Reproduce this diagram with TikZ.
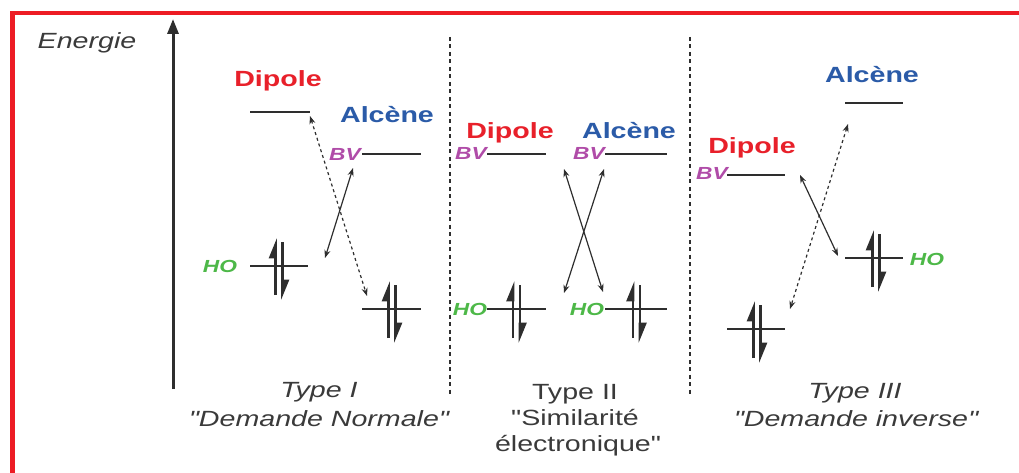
\documentclass[tikz,border=0pt]{standalone}
\usepackage{fontspec}
\usetikzlibrary{arrows.meta}
\newfontfamily\lab{Liberation Sans}[FakeStretch=1.3]

\definecolor{frame}{HTML}{ED1C24}
\definecolor{dipcol}{HTML}{E8202A}
\definecolor{alccol}{HTML}{2B5BA8}
\definecolor{bvcol}{HTML}{B04CA8}
\definecolor{hocol}{HTML}{4DB848}
\definecolor{ink}{HTML}{2E2E2E}
\definecolor{txt}{HTML}{3A3A3A}

\tikzset{
  level/.style={draw=ink, line width=2pt},
  elec/.style={draw=ink, line width=2.6pt,
    -{Triangle[harpoon, length=17pt, width=13pt]}},
  interact/.style={draw=ink, line width=1.2pt,
    {Stealth[length=8pt, width=6pt]}-{Stealth[length=8pt, width=6pt]}},
  weak/.style={interact, dash pattern=on 3pt off 3pt},
  divider/.style={draw=ink, line width=1.5pt, dash pattern=on 4pt off 3.5pt},
  mol/.style={inner sep=0, anchor=base, font=\lab\fontsize{22}{26}\selectfont\bfseries},
  dip/.style={mol, text=dipcol},
  alc/.style={mol, text=alccol},
  orb/.style={inner sep=0, anchor=base, font=\lab\fontsize{17.5}{20}\selectfont\bfseries\itshape},
  bv/.style={orb, text=bvcol},
  ho/.style={orb, text=hocol},
  caption/.style={inner sep=0, anchor=base, text=txt, font=\lab\fontsize{22}{26}\selectfont},
  pair/.pic={
    \draw[elec] (-3.5,29) -- (-3.5,-28);
    \draw[elec] (3.5,-24) -- (3.5,34);
  }
}

\begin{document}
\begin{tikzpicture}[x=1pt, y=-1pt]
\useasboundingbox (0,0) rectangle (1019,473);

% red frame (open to the right and at the bottom)
\draw[frame, line width=4.5pt] (12.5,473) -- (12.5,13) -- (1019,13);

% energy axis
\coordinate (axbot) at (173,389);
\coordinate (axtop) at (173,19);
\draw[ink, line width=3pt, -{Triangle[length=15pt, width=11pt]}] (axbot) -- (axtop);
\node[caption, font=\lab\fontsize{22}{26}\selectfont\itshape] (energie) at (87,49) {Energie};

% panel separators
\coordinate (s1t) at (450,37); \coordinate (s1b) at (450,395);
\coordinate (s2t) at (690,37); \coordinate (s2b) at (690,395);
\draw[divider] (s1t) -- (s1b);
\draw[divider] (s2t) -- (s2b);

% ---------------- Type I ----------------
\node[dip] (dipI) at (278,87) {Dipole};
\node[alc] (alcI) at (387,123) {Alcène};
\coordinate (dIbvL) at (250,112); \coordinate (dIbvR) at (310,112);
\coordinate (aIbvL) at (362,154); \coordinate (aIbvR) at (421,154);
\coordinate (dIhoL) at (250,266); \coordinate (dIhoR) at (308,266);
\coordinate (aIhoL) at (362,309); \coordinate (aIhoR) at (421,309);
\draw[level] (dIbvL) -- (dIbvR);
\draw[level] (aIbvL) -- (aIbvR);
\draw[level] (dIhoL) -- (dIhoR);
\draw[level] (aIhoL) -- (aIhoR);
\node[bv] (bvI) at (345,161) {BV};
\node[ho] (hoI) at (220,272) {HO};
\pic at (279,266) {pair};
\pic at (392,309) {pair};
\coordinate (iA1) at (325,258); \coordinate (iA2) at (353,168);
\coordinate (iB1) at (310,116); \coordinate (iB2) at (367,296);
\draw[interact] (iA1) -- (iA2);
\draw[weak] (iB1) -- (iB2);
\node[caption, font=\lab\fontsize{22}{26}\selectfont\itshape] (typeI) at (319,397.5) {Type I};
\node[caption, font=\lab\fontsize{22}{26}\selectfont\itshape] (demI) at (319,426) {"Demande Normale"};

% ---------------- Type II ----------------
\node[dip] (dipII) at (510,139) {Dipole};
\node[alc] (alcII) at (629,139) {Alcène};
\coordinate (dIIbvL) at (487,154); \coordinate (dIIbvR) at (546,154);
\coordinate (aIIbvL) at (605,154); \coordinate (aIIbvR) at (667,154);
\coordinate (dIIhoL) at (487,309); \coordinate (dIIhoR) at (546,309);
\coordinate (aIIhoL) at (605,309); \coordinate (aIIhoR) at (667,309);
\draw[level] (dIIbvL) -- (dIIbvR);
\draw[level] (aIIbvL) -- (aIIbvR);
\draw[level] (dIIhoL) -- (dIIhoR);
\draw[level] (aIIhoL) -- (aIIhoR);
\node[bv] (bvIIa) at (471,160) {BV};
\node[bv] (bvIIb) at (589,160) {BV};
\node[ho] (hoIIa) at (470,315) {HO};
\node[ho] (hoIIb) at (587,315) {HO};
\pic at (516.5,309) {pair};
\pic at (636.5,309) {pair};
\coordinate (iiA1) at (564,169); \coordinate (iiA2) at (603,292);
\coordinate (iiB1) at (604,169); \coordinate (iiB2) at (564,293);
\draw[interact] (iiA1) -- (iiA2);
\draw[interact] (iiB1) -- (iiB2);
\node[caption] (typeII) at (575,399) {Type II};
\node[caption] (simII) at (575,425) {"Similarité};
\node[caption] (eleII) at (578,451) {électronique"};

% ---------------- Type III ----------------
\node[alc] (alcIII) at (872,83) {Alcène};
\node[dip] (dipIII) at (752,154) {Dipole};
\coordinate (aIIIbvL) at (845,103); \coordinate (aIIIbvR) at (903,103);
\coordinate (dIIIbvL) at (727,175); \coordinate (dIIIbvR) at (785,175);
\coordinate (aIIIhoL) at (845,258); \coordinate (aIIIhoR) at (903,258);
\coordinate (dIIIhoL) at (727,329); \coordinate (dIIIhoR) at (785,329);
\draw[level] (aIIIbvL) -- (aIIIbvR);
\draw[level] (dIIIbvL) -- (dIIIbvR);
\draw[level] (aIIIhoL) -- (aIIIhoR);
\draw[level] (dIIIhoL) -- (dIIIhoR);
\node[bv] (bvIII) at (712,179) {BV};
\node[ho] (hoIII) at (927,265) {HO};
\pic at (876,258) {pair};
\pic at (757,329) {pair};
\coordinate (iiiA1) at (800,175); \coordinate (iiiA2) at (838,256);
\coordinate (iiiB1) at (848,124); \coordinate (iiiB2) at (790,309);
\draw[interact] (iiiA1) -- (iiiA2);
\draw[weak] (iiiB1) -- (iiiB2);
\node[caption, font=\lab\fontsize{22}{26}\selectfont\itshape] (typeIII) at (855,398) {Type III};
\node[caption, font=\lab\fontsize{22}{26}\selectfont\itshape] (demIII) at (856,426) {"Demande inverse"};
\end{tikzpicture}
\end{document}
